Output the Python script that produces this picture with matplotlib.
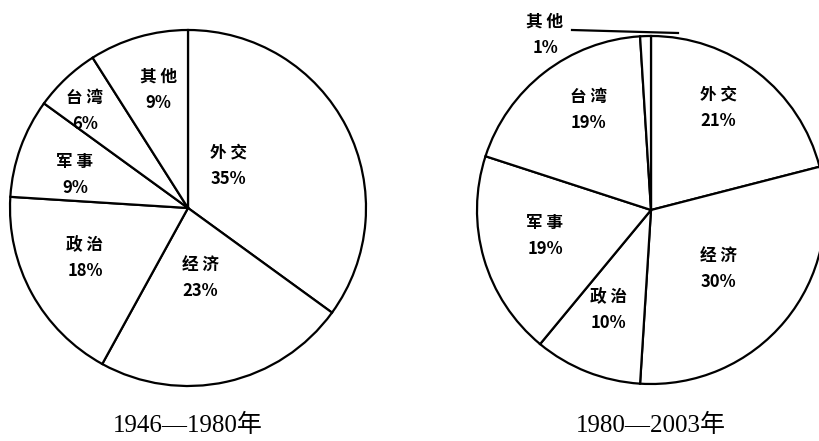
import matplotlib.pyplot as plt

plt.rcParams['font.family'] = ['Noto Sans CJK SC', 'DejaVu Sans']

labels = ['外 交', '经 济', '政 治', '军 事', '台 湾', '其 他']
share_1946 = [35, 23, 18, 9, 6, 9]
share_1980 = [21, 30, 10, 19, 19, 1]
titles = ['1946—1980年', '1980—2003年']

# label spots (pixels, y down)
pos_1946 = [(228, 166), (200, 278), (85, 258), (75, 175), (85, 111), (158, 90)]
pos_1980 = [(718, 108), (718, 269), (608, 310), (545, 236), (588, 110), (545, 35)]

fig = plt.figure(figsize=(8.19, 4.41), dpi=100)
ax = fig.add_axes([0, 0, 1, 1])
ax.set_xlim(0, 819)
ax.set_ylim(441, 0)
ax.set_aspect('equal')
ax.axis('off')

wp = dict(facecolor='white', edgecolor='black', linewidth=1.6)

for vals, pos, cen, rad, title in [(share_1946, pos_1946, (188, 208), 178, titles[0]),
                                   (share_1980, pos_1980, (651, 210), 174, titles[1])]:
    # y axis inverted, so counterclock=True draws clockwise on screen
    ax.pie(vals, center=cen, radius=rad, startangle=-90, counterclock=True,
           wedgeprops=wp, frame=True)
    for lab, v, (x, y) in zip(labels, vals, pos):
        ax.text(x, y, f'{lab}\n{v}%', ha='center', va='center', fontsize=12,
                fontweight='bold', linespacing=1.6)
    ax.text(cen[0], 425, title, ha='center', va='center', fontsize=18,
            family=['Liberation Serif', 'Noto Sans CJK SC'])

# leader line for the 1% slice
ax.plot([572, 678], [30, 33], color='black', linewidth=1.6)

ax.set_xlim(0, 819)
ax.set_ylim(441, 0)
ax.axis('off')
fig.savefig('out.png', dpi=100)
